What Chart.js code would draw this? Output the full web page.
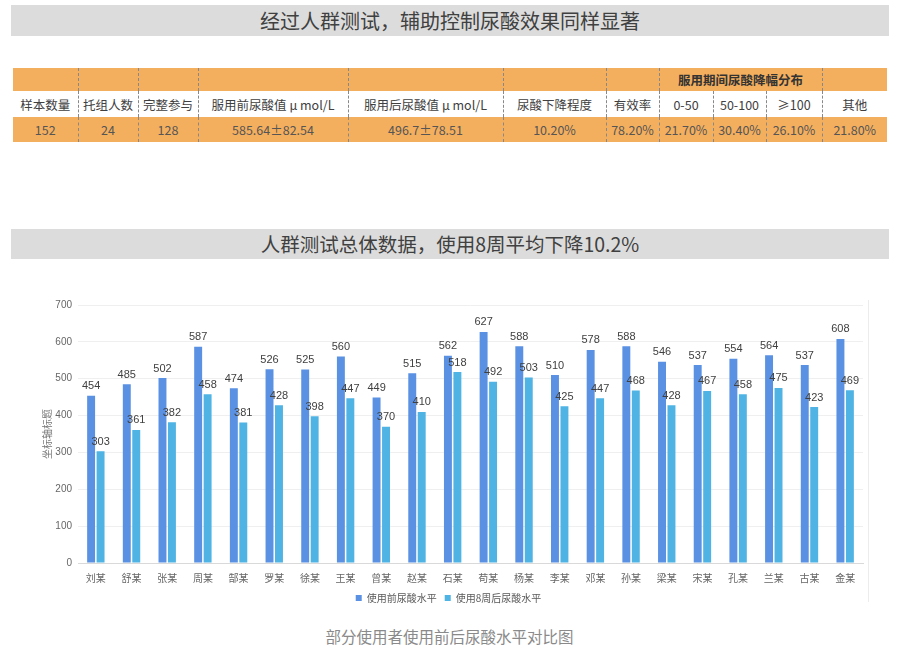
<!DOCTYPE html>
<html>
<head>
<meta charset="utf-8">
<script src="https://cdn.jsdelivr.net/npm/chart.js"></script>
<style>
    body {margin: 0; background: #fff; font-family: "Noto Sans CJK SC", "Noto Sans", sans-serif; width: 899px; height: 660px; position: relative; overflow: hidden;}
    .band {position: absolute; left: 11px; width: 878px; background: #dcdcdc; color: #404040; text-align: center;}
    #head1 {top: 5px; height: 31px; line-height: 31px; font-size: 20px;}
    #head2 {top: 229px; height: 30px; line-height: 30px; font-size: 19.5px;}
    table {position: absolute; left: 13px; top: 68px; border-collapse: collapse; table-layout: fixed; width: 874px; font-size: 12.5px; color: #404040;}
    td {padding: 0; text-align: center; white-space: nowrap; border-left: 1px dashed #888;}
    td:first-child {border-left: none;}
    tr.r1 td {background: #f4af5e; height: 23px; font-weight: bold; color: #333;}
    tr.r2 td {background: #fff; height: 26px;}
    tr.r3 td {background: #f4af5e; height: 25px; color: #555;}
    #chartBox {position: absolute; left: 30px; top: 292px; width: 838px; height: 323px;}
    #edge {position: absolute; left: 868px; top: 300px; width: 1px; height: 302px; background: #ececec;}
    #caption {position: absolute; left: 0; width: 899px; top: 625px; text-align: center; font-size: 15.5px; color: #8a8a8a;}
</style>
</head>
<body>
<div class="band" id="head1">经过人群测试，辅助控制尿酸效果同样显著</div>

<table>
    <colgroup>
        <col style="width:65px"><col style="width:60px"><col style="width:60px"><col style="width:150px">
        <col style="width:155px"><col style="width:103px"><col style="width:53px"><col style="width:54px">
        <col style="width:53px"><col style="width:56px"><col style="width:65px">
    </colgroup>
    <tr class="r1"><td></td><td></td><td></td><td></td><td></td><td></td><td></td><td colspan="3">服用期间尿酸降幅分布</td><td></td></tr>
    <tr class="r2"><td>样本数量</td><td>托组人数</td><td>完整参与</td><td>服用前尿酸值 μ mol/L</td><td>服用后尿酸值 μ mol/L</td><td>尿酸下降程度</td><td>有效率</td><td>0-50</td><td>50-100</td><td>≥100</td><td>其他</td></tr>
    <tr class="r3"><td>152</td><td>24</td><td>128</td><td>585.64±82.54</td><td>496.7±78.51</td><td>10.20%</td><td>78.20%</td><td>21.70%</td><td>30.40%</td><td>26.10%</td><td>21.80%</td></tr>
</table>

<div class="band" id="head2">人群测试总体数据，使用8周平均下降10.2%</div>

<div id="chartBox"><canvas id="chart"></canvas></div>
<div id="edge"></div>

<div id="caption">部分使用者使用前后尿酸水平对比图</div>

<script>
    // chart data
    const names = ['刘某', '舒某', '张某', '周某', '郜某', '罗某', '徐某', '王某', '曾某', '赵某', '石某',
        '苟某', '杨某', '李某', '邓某', '孙某', '梁某', '宋某', '孔某', '兰某', '古某', '金某'];
    const beforeValues = [454, 485, 502, 587, 474, 526, 525, 560, 449, 515, 562,
        627, 588, 510, 578, 588, 546, 537, 554, 564, 537, 608];
    const afterValues = [303, 361, 382, 458, 381, 428, 398, 447, 370, 410, 518,
        492, 503, 425, 447, 468, 428, 467, 458, 475, 423, 469];
    const seriesNames = ['使用前尿酸水平', '使用8周后尿酸水平'];
    const yTicks = [0, 100, 200, 300, 400, 500, 600, 700];

    // Draw the value above every bar
    const barLabels = {
        id: 'barLabels',
        afterDatasetsDraw(chart) {
            const ctx = chart.ctx;
            ctx.save();
            ctx.font = '11px "Liberation Sans", Arial, sans-serif';
            ctx.fillStyle = '#404040';
            ctx.textAlign = 'center';
            ctx.textBaseline = 'bottom';
            chart.data.datasets.forEach((ds, i) => {
                chart.getDatasetMeta(i).data.forEach((bar, j) => {
                    ctx.fillText(ds.data[j], bar.x, bar.y - 4);
                });
            });
            ctx.restore();
        }
    };

    new Chart(document.getElementById('chart'), {
        type: 'bar',
        data: {
            labels: names,
            datasets: [
                {label: seriesNames[0], data: beforeValues, backgroundColor: '#5a91e3'},
                {label: seriesNames[1], data: afterValues, backgroundColor: '#4fb3e4'}
            ]
        },
        options: {
            responsive: true,
            maintainAspectRatio: false,
            animation: false,
            layout: {padding: {top: 13, right: 5, left: 4, bottom: 2}},
            datasets: {bar: {categoryPercentage: 0.53, barPercentage: 0.84}},
            plugins: {
                legend: {
                    position: 'bottom',
                    labels: {
                        boxWidth: 6, boxHeight: 6, padding: 8,
                        color: '#595959',
                        font: {size: 10, family: '"Noto Sans CJK SC"'}
                    }
                },
                tooltip: {enabled: false}
            },
            scales: {
                x: {
                    grid: {display: false},
                    border: {color: '#d9d9d9'},
                    ticks: {color: '#666', font: {size: 10, family: '"Noto Sans CJK SC"', lineHeight: 1}, padding: 2, maxRotation: 0, autoSkip: false}
                },
                y: {
                    min: 0, max: 700,
                    afterBuildTicks: axis => { axis.ticks = yTicks.map(v => ({value: v})); },
                    afterFit: axis => { axis.width = 44; },
                    grid: {color: '#efefef', drawTicks: false},
                    border: {display: false},
                    ticks: {color: '#666', font: {size: 10}, padding: 6},
                    title: {display: true, text: '坐标轴标题', color: '#777', font: {size: 10, family: '"Noto Sans CJK SC"'}, padding: {top: 7, bottom: 0}}
                }
            }
        },
        plugins: [barLabels]
    });
</script>
</body>
</html>
